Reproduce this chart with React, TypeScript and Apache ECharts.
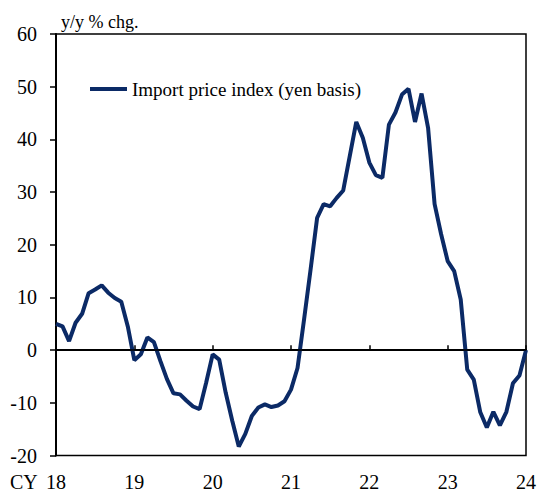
import React, { useEffect, useRef } from "react";
import * as echarts from "echarts";

const yearLabels = ["18", "19", "20", "21", "22", "23", "24"];
const seriesName = "Import price index (yen basis)";
// Monthly y/y % change, Jan 2018 .. Jan 2024
const importPriceYoY = [
  5.0, 4.5, 1.7, 5.2, 6.9, 10.8, 11.5, 12.3, 10.9, 9.9, 9.2, 4.5,
  -1.9, -0.8, 2.4, 1.5, -2.1, -5.5, -8.2, -8.4, -9.6, -10.7, -11.2, -6.2,
  -0.8, -1.8, -8.1, -13.4, -18.3, -15.9, -12.5, -10.9, -10.3, -10.8, -10.5, -9.7,
  -7.5, -3.4, 5.8, 15.3, 25.1, 27.7, 27.3, 28.9, 30.3, 36.8, 43.3, 40.3,
  35.6, 33.2, 32.7, 42.8, 45.1, 48.5, 49.6, 43.3, 48.7, 42.2, 27.7, 22.0,
  16.9, 15.0, 9.6, -3.7, -5.6, -11.8, -14.7, -11.7, -14.3, -11.7, -6.3, -4.8,
  0.0,
];

const months: string[] = [];
for (let i = 0; i < importPriceYoY.length; i++) {
  const y = 2018 + Math.floor(i / 12);
  const m = (i % 12) + 1;
  months.push(`${y}-${m < 10 ? "0" + m : m}`);
}

const FONT = "Liberation Serif";

export default function App() {
  const ref = useRef<HTMLDivElement>(null);
  useEffect(() => {
    document.body.style.margin = "0";
    document.body.style.overflow = "hidden";
    if (!ref.current) return;
    const chart = echarts.init(ref.current, null, { renderer: "svg" });
    chart.setOption({
      animation: false,
      backgroundColor: "#ffffff",
      textStyle: { fontFamily: FONT },
      grid: {
        left: 56,
        right: 12,
        top: 34,
        bottom: 38.5,
        show: true,
        borderColor: "#000",
        borderWidth: 1.5,
        containLabel: false,
      },
      legend: {
        show: true,
        left: 90,
        top: 79.5,
        padding: 0,
        icon: "rect",
        itemWidth: 37,
        itemHeight: 4,
        itemGap: 10,
        data: [seriesName],
        itemStyle: { color: "#0b2a66" },
        textStyle: { fontFamily: FONT, fontSize: 19, color: "#000" },
      },
      graphic: [
        {
          type: "text",
          left: 61,
          top: 13,
          style: { text: "y/y % chg.", fontFamily: FONT, fontSize: 18, fill: "#000" },
        },
        {
          type: "text",
          left: 10,
          top: 471.5,
          style: { text: "CY", fontFamily: FONT, fontSize: 20, fill: "#000" },
        },
      ],
      xAxis: {
        type: "category",
        data: months,
        boundaryGap: false,
        axisLine: { show: true, lineStyle: { color: "#000", width: 2 } },
        axisTick: {
          show: true,
          inside: true,
          length: 5,
          interval: (i: number) => i % 12 === 0,
          lineStyle: { color: "#000", width: 1.5 },
        },
        axisLabel: {
          interval: (i: number) => i % 12 === 0,
          formatter: (_v: string, i: number) => yearLabels[Math.round(i / 12)],
          fontFamily: FONT,
          fontSize: 20,
          color: "#000",
          margin: 16,
        },
        splitLine: { show: false },
      },
      yAxis: {
        type: "value",
        min: -20,
        max: 60,
        interval: 10,
        axisLine: { show: true, lineStyle: { color: "#000", width: 2 } },
        axisTick: { show: true, inside: false, length: 6, lineStyle: { color: "#000", width: 1.5 } },
        axisLabel: { fontFamily: FONT, fontSize: 20, color: "#000", margin: 19 },
        splitLine: { show: false },
      },
      series: [
        {
          name: seriesName,
          type: "line",
          data: importPriceYoY,
          symbol: "none",
          lineStyle: { color: "#0b2a66", width: 4 },
          itemStyle: { color: "#0b2a66" },
          markLine: {
            silent: true,
            symbol: "none",
            label: { show: false },
            lineStyle: { color: "#000", width: 1.5, type: "solid" },
            data: [{ yAxis: 0 }],
          },
        },
      ],
    });
    return () => chart.dispose();
  }, []);
  return <div ref={ref} style={{ width: 539, height: 494 }} />;
}
